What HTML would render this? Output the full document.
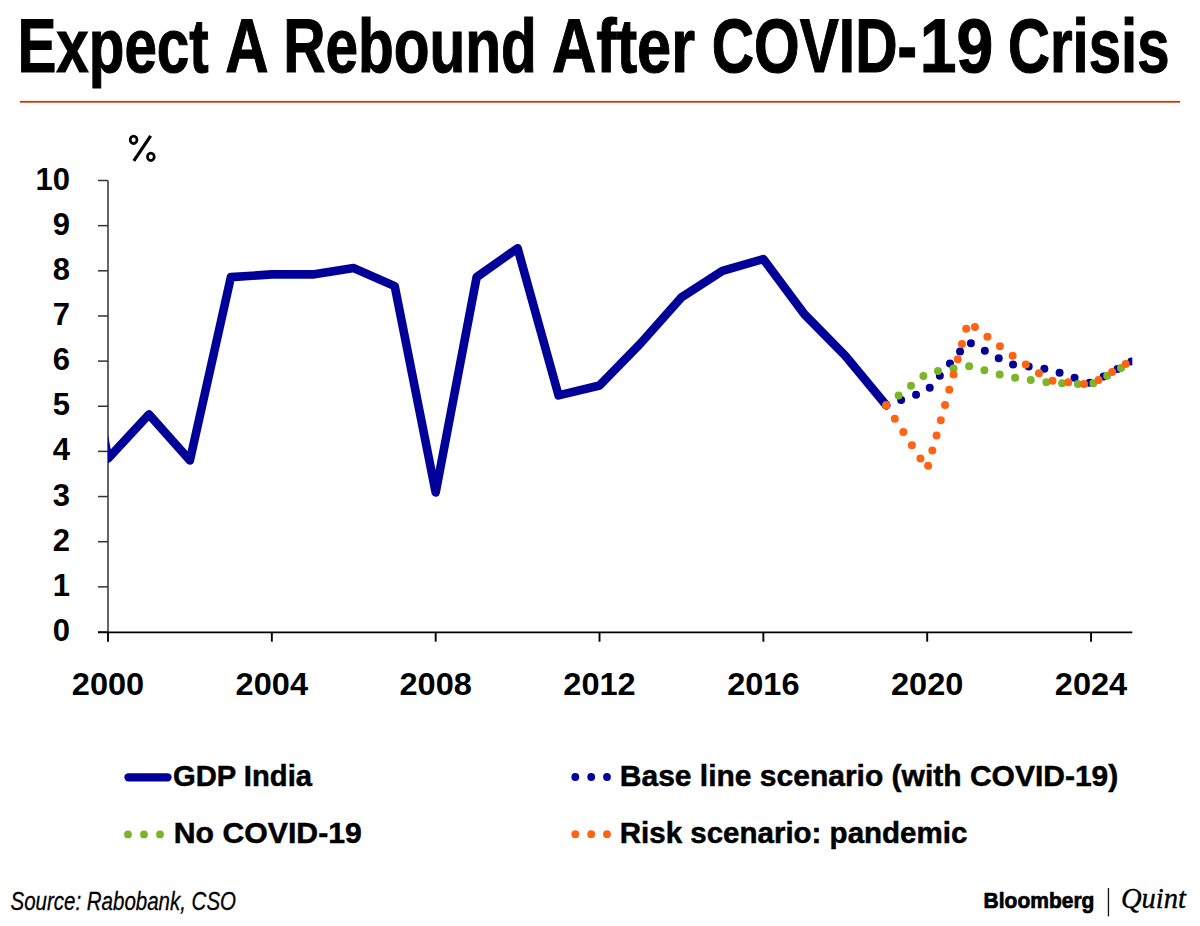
<!DOCTYPE html>
<html><head><meta charset="utf-8"><style>
html,body{margin:0;padding:0;background:#fff;}
body{width:1200px;height:926px;position:relative;overflow:hidden;font-family:"Liberation Sans",sans-serif;}
svg{position:absolute;left:0;top:0;}
.yl,.xl{font-family:"Liberation Sans",sans-serif;font-weight:bold;font-size:31px;fill:#000;}
.lg{font-family:"Liberation Sans",sans-serif;font-weight:bold;font-size:29.6px;fill:#000;stroke:#000;stroke-width:0.5px;}
.pct{font-family:"Liberation Sans",sans-serif;font-weight:bold;font-size:34px;fill:#000;}
.title{font-family:"Liberation Sans",sans-serif;font-weight:bold;font-size:76px;fill:#000;stroke:#000;stroke-width:1.1px;}
.src{font-family:"Liberation Sans",sans-serif;font-style:italic;font-size:26px;fill:#000;stroke:#000;stroke-width:0.3px;}
.bb{font-family:"Liberation Sans",sans-serif;font-weight:bold;font-size:22px;fill:#000;stroke:#000;stroke-width:0.7px;}
.qt{font-family:"Liberation Serif",serif;font-style:italic;font-size:30px;fill:#000;stroke:#000;stroke-width:0.4px;}
</style></head><body>
<svg width="1200" height="926" viewBox="0 0 1200 926">
<g class="title"><text x="17.44" y="72" textLength="191.30" lengthAdjust="spacingAndGlyphs">Expect</text><text x="225.21" y="72" textLength="43.37" lengthAdjust="spacingAndGlyphs">A</text><text x="283.15" y="72" textLength="253.69" lengthAdjust="spacingAndGlyphs">Rebound</text><text x="551.99" y="72" textLength="143.02" lengthAdjust="spacingAndGlyphs">After</text><text x="711.71" y="72" textLength="205.32" lengthAdjust="spacingAndGlyphs">COVID-</text><text x="919.66" y="72" textLength="73.52" lengthAdjust="spacingAndGlyphs">19</text><text x="1007.95" y="72" textLength="161.59" lengthAdjust="spacingAndGlyphs">Crisis</text></g>
<rect x="20" y="100.9" width="1160" height="1.8" fill="#C83A02"/>
<line x1="108" y1="180.5" x2="108" y2="632" stroke="#4a4a4a" stroke-width="1.7"/>
<line x1="98" y1="632.00" x2="108" y2="632.00" stroke="#333" stroke-width="1.5"/>
<text x="70" y="641.00" text-anchor="end" class="yl">0</text>
<line x1="98" y1="586.85" x2="108" y2="586.85" stroke="#333" stroke-width="1.5"/>
<text x="70" y="595.85" text-anchor="end" class="yl">1</text>
<line x1="98" y1="541.70" x2="108" y2="541.70" stroke="#333" stroke-width="1.5"/>
<text x="70" y="550.70" text-anchor="end" class="yl">2</text>
<line x1="98" y1="496.55" x2="108" y2="496.55" stroke="#333" stroke-width="1.5"/>
<text x="70" y="505.55" text-anchor="end" class="yl">3</text>
<line x1="98" y1="451.40" x2="108" y2="451.40" stroke="#333" stroke-width="1.5"/>
<text x="70" y="460.40" text-anchor="end" class="yl">4</text>
<line x1="98" y1="406.25" x2="108" y2="406.25" stroke="#333" stroke-width="1.5"/>
<text x="70" y="415.25" text-anchor="end" class="yl">5</text>
<line x1="98" y1="361.10" x2="108" y2="361.10" stroke="#333" stroke-width="1.5"/>
<text x="70" y="370.10" text-anchor="end" class="yl">6</text>
<line x1="98" y1="315.95" x2="108" y2="315.95" stroke="#333" stroke-width="1.5"/>
<text x="70" y="324.95" text-anchor="end" class="yl">7</text>
<line x1="98" y1="270.80" x2="108" y2="270.80" stroke="#333" stroke-width="1.5"/>
<text x="70" y="279.80" text-anchor="end" class="yl">8</text>
<line x1="98" y1="225.65" x2="108" y2="225.65" stroke="#333" stroke-width="1.5"/>
<text x="70" y="234.65" text-anchor="end" class="yl">9</text>
<line x1="98" y1="180.50" x2="108" y2="180.50" stroke="#333" stroke-width="1.5"/>
<text x="70" y="189.50" text-anchor="end" class="yl">10</text>
<line x1="98" y1="632.3" x2="1132.3" y2="632.3" stroke="#000" stroke-width="1.7"/>
<line x1="108.00" y1="632" x2="108.00" y2="641.7" stroke="#000" stroke-width="1.9"/>
<text x="108.00" y="695" text-anchor="middle" class="xl" textLength="72.4" lengthAdjust="spacingAndGlyphs">2000</text>
<line x1="271.84" y1="632" x2="271.84" y2="641.7" stroke="#000" stroke-width="1.9"/>
<text x="271.84" y="695" text-anchor="middle" class="xl" textLength="72.4" lengthAdjust="spacingAndGlyphs">2004</text>
<line x1="435.68" y1="632" x2="435.68" y2="641.7" stroke="#000" stroke-width="1.9"/>
<text x="435.68" y="695" text-anchor="middle" class="xl" textLength="72.4" lengthAdjust="spacingAndGlyphs">2008</text>
<line x1="599.52" y1="632" x2="599.52" y2="641.7" stroke="#000" stroke-width="1.9"/>
<text x="599.52" y="695" text-anchor="middle" class="xl" textLength="72.4" lengthAdjust="spacingAndGlyphs">2012</text>
<line x1="763.36" y1="632" x2="763.36" y2="641.7" stroke="#000" stroke-width="1.9"/>
<text x="763.36" y="695" text-anchor="middle" class="xl" textLength="72.4" lengthAdjust="spacingAndGlyphs">2016</text>
<line x1="927.20" y1="632" x2="927.20" y2="641.7" stroke="#000" stroke-width="1.9"/>
<text x="927.20" y="695" text-anchor="middle" class="xl" textLength="72.4" lengthAdjust="spacingAndGlyphs">2020</text>
<line x1="1091.04" y1="632" x2="1091.04" y2="641.7" stroke="#000" stroke-width="1.9"/>
<text x="1091.04" y="695" text-anchor="middle" class="xl" textLength="72.4" lengthAdjust="spacingAndGlyphs">2024</text>
<clipPath id="pc"><rect x="108" y="150" width="1024.3" height="520"/></clipPath>
<g clip-path="url(#pc)">
<path d="M67.04 232.42 L108.00 458.62 L148.96 414.38 L189.92 460.43 L230.88 277.12 L271.84 274.41 L312.80 274.41 L353.76 268.09 L394.72 286.15 L435.68 492.49 L476.64 277.12 L517.60 248.23 L558.56 395.41 L599.52 385.48 L640.48 343.49 L681.44 297.44 L722.40 270.80 L763.36 259.06 L804.32 314.14 L845.28 355.68 L886.24 405.35" fill="none" stroke="#000099" stroke-width="8.6" stroke-linejoin="round" stroke-linecap="round"/>
<path d="M886.24 405.35 L927.20 390.90 L968.16 341.69 L1009.12 363.81 L1050.08 369.68 L1091.04 383.22 L1132.00 361.10 L1144.29 355.23" fill="none" stroke="#000099" stroke-width="8" stroke-linejoin="round" stroke-linecap="round" stroke-dasharray="0 15.8"/>
<path d="M886.24 405.35 L927.20 372.84 L968.16 366.07 L1009.12 376.90 L1050.08 382.77 L1091.04 384.58 L1132.00 362.00" fill="none" stroke="#7AB52A" stroke-width="8" stroke-linejoin="round" stroke-linecap="round" stroke-dasharray="0 15.8"/>
<path d="M886.24 405.35 L927.20 469.01 L968.16 321.82 L1009.12 353.42 L1050.08 380.51 L1091.04 384.58 L1132.00 360.20" fill="none" stroke="#FF6314" stroke-width="8" stroke-linejoin="round" stroke-linecap="round" stroke-dasharray="0 15.8"/>
</g>
<line x1="128.5" y1="777.3" x2="167.5" y2="777.3" stroke="#000099" stroke-width="8.3" stroke-linecap="round"/>
<circle cx="128" cy="834.4" r="3.9" fill="#7AB52A"/>
<circle cx="144" cy="834.4" r="3.9" fill="#7AB52A"/>
<circle cx="160" cy="834.4" r="3.9" fill="#7AB52A"/>
<circle cx="575.3" cy="777" r="3.9" fill="#000099"/>
<circle cx="575.3" cy="834.2" r="3.9" fill="#FF6314"/>
<circle cx="591.2" cy="777" r="3.9" fill="#000099"/>
<circle cx="591.2" cy="834.2" r="3.9" fill="#FF6314"/>
<circle cx="607.0" cy="777" r="3.9" fill="#000099"/>
<circle cx="607.0" cy="834.2" r="3.9" fill="#FF6314"/>
<text x="173" y="785.8" class="lg" textLength="139" lengthAdjust="spacingAndGlyphs">GDP India</text>
<text x="173.8" y="842.6" class="lg" textLength="188" lengthAdjust="spacingAndGlyphs">No COVID-19</text>
<text x="619.8" y="785.8" class="lg" textLength="498.5" lengthAdjust="spacingAndGlyphs">Base line scenario (with COVID-19)</text>
<text x="619.8" y="842.5" class="lg" textLength="347.5" lengthAdjust="spacingAndGlyphs">Risk scenario: pandemic</text>
<ellipse cx="133.6" cy="139.8" rx="3.4" ry="3.75" fill="none" stroke="#000" stroke-width="2.7"/><ellipse cx="150.85" cy="156.8" rx="3.4" ry="3.75" fill="none" stroke="#000" stroke-width="2.7"/><line x1="150.65" y1="135.8" x2="133.85" y2="160.8" stroke="#000" stroke-width="3.2"/>
<text x="10.5" y="910" class="src" textLength="225.5" lengthAdjust="spacingAndGlyphs">Source: Rabobank, CSO</text>
<text x="983.6" y="908" class="bb" textLength="110.8" lengthAdjust="spacingAndGlyphs">Bloomberg</text>
<rect x="1107.8" y="888" width="1.3" height="28.4" fill="#111"/>
<text x="1121" y="908" class="qt" textLength="65" lengthAdjust="spacingAndGlyphs">Quint</text>
</svg>
</body></html>
